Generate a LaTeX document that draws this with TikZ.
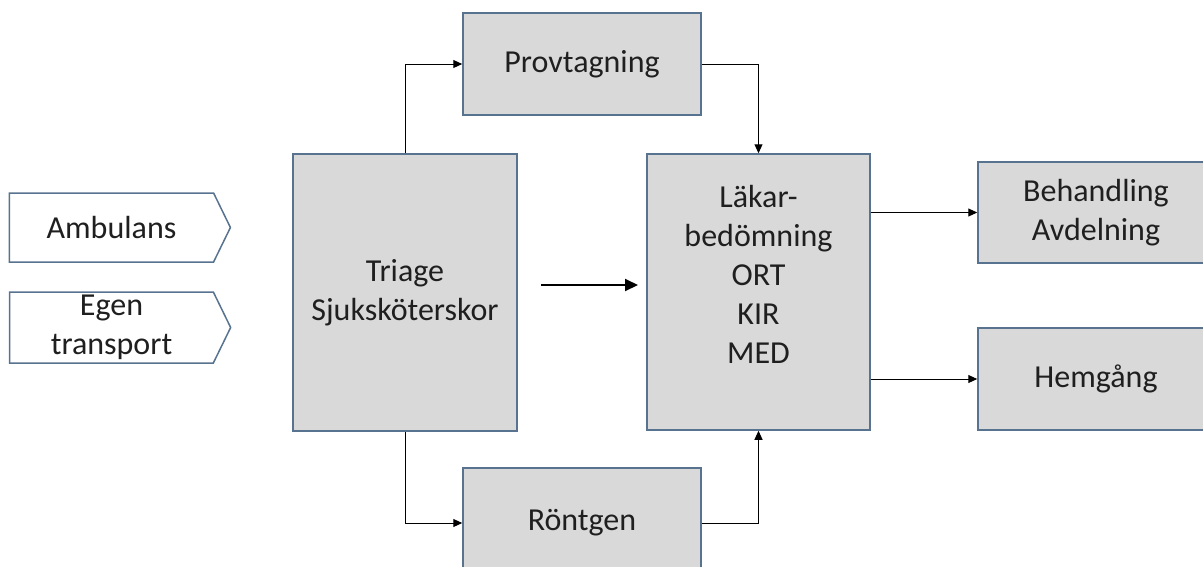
\documentclass[tikz,border=0pt]{standalone}
\usepackage{fontspec}
\setmainfont{Carlito}
\usetikzlibrary{positioning, arrows.meta, shapes.symbols}

\definecolor{boxfill}{HTML}{D9D9D9}
\definecolor{boxline}{HTML}{58738F}
\definecolor{txt}{HTML}{1F1F1F}

\begin{document}
\begin{tikzpicture}[
    x=1pt, y=-1pt,
    box/.style={draw=boxline, line width=1.5pt, fill=boxfill, rectangle, align=center, text=txt,
        font=\fontsize{32}{39}\selectfont, inner sep=0pt},
    entry/.style={draw=boxline, line width=1.5pt, fill=white, signal, signal to=east, signal pointer angle=128,
        align=center, text=txt, font=\fontsize{32}{39}\selectfont, inner sep=0pt},
    arrow/.style={-{Triangle[length=9pt, width=8pt]}, line width=1pt},
    bold_arrow/.style={-{Triangle[length=13pt, width=12pt]}, line width=2pt}
]
\useasboundingbox (0,0) rectangle (1203,566);
\clip (0,0) rectangle (1203,566);

% Arrivals
\node[entry, minimum width=221pt, minimum height=69pt] (amb) at (111.5,227.5) {Ambulans};
\node[entry, minimum width=221pt, minimum height=71pt] (egen) at (111.5,327.5) {Egen\\transport};

% Main boxes
\node[box, minimum width=224pt, minimum height=277pt] (triage) at (405,292.5) {Triage\\Sjuksköterskor};
\node[box, minimum width=238pt, minimum height=102pt] (prov) at (582,64) {Provtagning};
\node[box, minimum width=238pt, minimum height=110pt] (ront) at (582,523) {Röntgen};
\node[box, minimum width=223pt, minimum height=276pt, text depth=36pt] (lakar) at (758.5,292) {Läkar-\\bedömning\\ORT\\KIR\\MED};
\node[box, minimum width=236pt, minimum height=101pt] (beh) at (1096,212.5) {Behandling\\Avdelning};
\node[box, minimum width=236pt, minimum height=102pt] (hem) at (1096,379) {Hemgång};

% Free arrow between triage and doctor
\coordinate (flow_a) at (541,285);
\coordinate (flow_b) at (638,285);
\draw[bold_arrow] (flow_a) -- (flow_b);

% Tests on the way to the doctor
\draw[arrow] (triage.north) |- (prov.west);
\draw[arrow] (prov.east) -| (lakar.north);
\draw[arrow] (triage.south) |- (ront.west);
\draw[arrow] (ront.east) -| (lakar.south);

% Outcomes
\draw[arrow] (beh.west -| lakar.east) -- (beh.west);
\draw[arrow] (hem.west -| lakar.east) -- (hem.west);

\end{tikzpicture}
\end{document}
